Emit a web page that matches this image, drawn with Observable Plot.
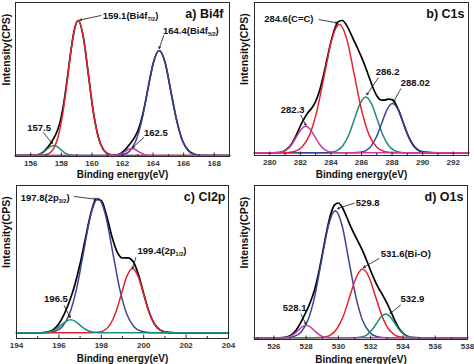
<!DOCTYPE html>
<html><head><meta charset="utf-8">
<script src="https://cdn.jsdelivr.net/npm/d3@7"></script>
<script src="https://cdn.jsdelivr.net/npm/@observablehq/plot@0.6"></script>
<style>
body{margin:0;background:#fff;}
#chart{position:relative;width:474px;height:364px;overflow:hidden;font-family:"Liberation Sans",Arial,sans-serif;}
#chart svg{position:absolute;}
</style></head><body><div id="chart"></div>
<script>
// ---------- a) Bi4f ----------
const bi4fTicks = [156,158,160,162,164,166,168];
const bi4fMinor = [155,157,159,161,163,165,167,169];
const bi4fEnvelope = [[155,0],[156.15,0.1],[156.38,0.4],[156.6,1.5],[156.83,3.6],[157.05,7.2],[157.28,11.8],[157.5,17.1],[157.73,24.5],[157.95,35.6],[158.18,54.4],[158.4,78.4],[158.63,105.2],[158.85,125.7],[159.1,135],[159.43,119.1],[159.76,81.9],[160.09,43.8],[160.42,18.3],[160.75,5.9],[161.08,1.5],[161.34,0.5],[161.55,0.5],[161.76,1.2],[161.97,3.0],[162.18,5.9],[162.39,9.7],[162.6,13.8],[162.81,18.7],[163.02,25.3],[163.23,35.4],[163.44,49.1],[163.65,65.6],[163.83,79.8],[164.02,92.7],[164.4,105],[164.79,92.7],[165.17,63.7],[165.56,34.1],[165.94,14.2],[166.33,4.6],[166.71,1.2],[167.25,0],[169,0]];
const bi4f_157_5 = [[155,0],[155.84,0],[156.15,0.1],[156.38,0.4],[156.6,1.4],[156.83,3.2],[157.05,6.1],[157.28,8.8],[157.5,10],[157.73,8.8],[157.95,6.1],[158.18,3.2],[158.4,1.4],[158.63,0.4],[158.85,0.1],[159.16,0],[169,0]];
const bi4f_159_1 = [[155,0],[156.66,0],[157.12,1.5],[157.45,5.9],[157.78,18.3],[158.11,43.8],[158.44,81.9],[158.77,119.1],[159.1,135],[159.43,119.1],[159.76,81.9],[160.09,43.8],[160.42,18.3],[160.75,5.9],[161.08,1.5],[161.54,0],[169,0]];
const bi4f_164_4 = [[155,0],[161.55,0],[162.09,1.2],[162.48,4.6],[162.86,14.2],[163.25,34.1],[163.63,63.7],[164.02,92.7],[164.4,105],[164.79,92.7],[165.17,63.7],[165.56,34.1],[165.94,14.2],[166.33,4.6],[166.71,1.2],[167.25,0],[169,0]];
const bi4f_162_5 = [[155,0],[161.05,0],[161.34,0.1],[161.55,0.3],[161.76,0.9],[161.97,2.3],[162.18,4.2],[162.39,6.2],[162.6,7],[162.81,6.2],[163.02,4.2],[163.23,2.3],[163.44,0.9],[163.65,0.3],[163.86,0.1],[164.15,0],[169,0]];
const bi4fLabels = [["159.1(Bi4f_{7/2})",160.7,140],["164.4(Bi4f_{5/2})",164.65,125],["157.5",155.77,28],["162.5",163.4,23]];
const bi4fArrows = [[160.6,140,159.2,135.5],[164.7,120,164.4,107],[156.82,23,157.41,12],[163.4,18,162.67,8]];

// ---------- b) C1s ----------
const c1sTicks = [280,282,284,286,288,290,292];
const c1sMinor = [281,283,285,287,289,291];
const c1sEnvelope = [[279,0],[280,0],[280.5,0.2],[280.75,0.8],[281,2.3],[281.25,5.4],[281.5,10.7],[281.75,18.2],[282,26.8],[282.25,34.2],[282.5,40.2],[282.75,44.9],[283,51.5],[283.25,61.9],[283.5,76.6],[283.75,94.0],[284,110.9],[284.25,124.1],[284.5,131.4],[284.75,132.3],[285,128.2],[285.25,120.8],[285.5,112.4],[285.75,104.3],[286,95.6],[286.25,86.1],[286.5,75.6],[286.75,65.1],[287,57.1],[287.25,53.0],[287.5,52.6],[287.75,53.7],[288,53.2],[288.25,48.4],[288.5,39.9],[288.75,29.2],[289,18.9],[289.25,10.8],[289.5,5.4],[289.75,2.4],[290,0.9],[290.5,0.1],[291,0],[293,0]];
const c1s_282_3 = [[279,0],[280.1,0],[280.55,0.3],[280.85,1.2],[281.15,3.6],[281.45,8.6],[281.75,16.1],[282.05,23.4],[282.35,26.5],[282.65,23.4],[282.95,16.1],[283.25,8.6],[283.55,3.6],[283.85,1.2],[284.15,0.3],[284.6,0],[293,0]];
const c1s_284_6 = [[279,0],[280.9,0],[281.61,1.4],[282.1,5.6],[282.59,17.4],[283.08,41.7],[283.57,77.9],[284.06,113.4],[284.55,128.5],[285.04,113.4],[285.53,77.9],[286.02,41.7],[286.51,17.4],[287.0,5.6],[287.49,1.4],[288.2,0],[293,0]];
const c1s_286_2 = [[279,0],[283.5,0],[284.06,0.6],[284.43,2.4],[284.8,7.5],[285.17,18.1],[285.54,33.8],[285.91,49.2],[286.28,55.8],[286.65,49.2],[287.02,33.8],[287.39,18.1],[287.76,7.5],[288.13,2.4],[288.5,0.6],[289.05,0],[293,0]];
const c1s_288_02 = [[279,0],[285.4,0],[285.93,0.5],[286.28,2.2],[286.63,6.7],[286.98,16.0],[287.33,29.8],[287.68,43.4],[288.03,49.2],[288.38,43.4],[288.73,29.8],[289.08,16.0],[289.43,6.7],[289.78,2.2],[290.13,0.5],[290.65,0],[293,0]];
const c1sLabels = [["284.6(C=C)",279.63,134.2],["286.2",286.93,80.8],["288.02",288.57,69.8],["282.3",280.72,42.5]];
const c1sArrows = [[283.23,133.2,284.43,129.8],[287.1,75,286.35,58],[288.57,64,288.09,50.8],[282.03,37.5,282.36,27.5]];

// ---------- c) Cl2p ----------
const cl2pTicks = [194,196,198,200,202,204];
const cl2pMinor = [195,197,199,201,203];
const cl2pEnvelope = [[194,0],[195,0],[195.25,0.2],[195.5,1.0],[195.75,3.4],[196,9.0],[196.25,18.7],[196.5,31.6],[196.75,47.9],[197,69.0],[197.25,94.4],[197.5,118.8],[197.75,133.5],[198,132.3],[198.25,117.1],[198.5,96.3],[198.75,80.6],[199,74.8],[199.25,74.9],[199.5,71.2],[199.75,58.3],[200,39.1],[200.25,21.1],[200.5,9.1],[200.75,3.1],[201,0.85],[201.5,0],[204,0]];
const cl2p_197_8 = [[194,0],[195.3,0],[195.81,1.5],[196.15,5.9],[196.49,18.2],[196.83,43.6],[197.17,81.5],[197.51,118.5],[197.85,134.3],[198.19,118.5],[198.53,81.5],[198.87,43.6],[199.21,18.2],[199.55,5.9],[199.89,1.5],[200.4,0],[204,0]];
const cl2p_199_4 = [[194,0],[197.5,0],[197.91,0.7],[198.17,2.8],[198.43,8.7],[198.69,20.9],[198.95,39.0],[199.21,56.7],[199.47,64.3],[199.73,56.7],[199.99,39.0],[200.25,20.9],[200.51,8.7],[200.77,2.8],[201.03,0.7],[201.45,0],[204,0]];
const cl2p_196_5 = [[194,0],[194.95,0],[195.26,0.1],[195.48,0.6],[195.69,1.8],[195.91,4.2],[196.12,7.9],[196.34,11.5],[196.55,13],[196.77,11.5],[196.98,7.9],[197.2,4.2],[197.41,1.8],[197.63,0.6],[197.84,0.1],[198.15,0],[204,0]];
const cl2pLabels = [["197.8(2p_{3/2})",194.2,135.3],["199.4(2p_{1/2})",199.71,82],["196.5",195.3,33.6]];
const cl2pArrows = [[196.72,136.3,197.74,133.6],[199.63,75.3,199.47,64.3],[196.25,27,196.53,15.3]];

// ---------- d) O1s ----------
const o1sTicks = [526,528,530,532,534,536,538];
const o1sMinor = [525,527,529,531,533,535,537];
const o1sEnvelope = [[524.8,0],[526.2,0],[526.5,0.2],[526.75,0.6],[527,2.0],[527.25,5.1],[527.5,10.6],[527.75,17.9],[528,26.1],[528.25,35.2],[528.5,46.7],[528.75,63.1],[529,83.4],[529.25,104.6],[529.5,122.2],[529.75,132.7],[530,134.8],[530.25,130.1],[530.5,121.3],[530.75,111.7],[531,103.2],[531.25,95.1],[531.5,86.9],[531.75,77.3],[532,67.0],[532.25,57.5],[532.5,49.4],[532.75,42.5],[533,34.9],[533.25,26.1],[533.5,17.2],[533.75,9.6],[534,4.6],[534.25,1.8],[534.5,0.5],[534.75,0.1],[535.1,0],[538,0]];
const o1s_528_1 = [[524.8,0],[526.25,0],[526.56,0.1],[526.8,0.6],[527.04,1.7],[527.28,4.1],[527.52,7.6],[527.76,11.1],[528.0,12.6],[528.24,11.1],[528.48,7.6],[528.72,4.1],[528.96,1.7],[529.2,0.6],[529.44,0.1],[529.75,0],[538,0]];
const o1s_529_8 = [[524.8,0],[526.6,0],[527.25,1.4],[527.68,5.6],[528.1,17.2],[528.53,41.2],[528.95,77.0],[529.38,112.1],[529.8,127],[530.23,112.1],[530.65,77.0],[531.08,41.2],[531.5,17.2],[531.93,5.6],[532.35,1.4],[533.0,0],[538,0]];
const o1s_531_6 = [[524.8,0],[528.5,0],[529.13,0.8],[529.53,3.0],[529.92,9.3],[530.32,22.3],[530.71,41.7],[531.11,60.6],[531.5,68.7],[531.9,60.6],[532.29,41.7],[532.69,22.3],[533.08,9.3],[533.48,3.0],[533.87,0.8],[534.45,0],[538,0]];
const o1s_532_9 = [[524.8,0],[530.8,0],[531.22,0.3],[531.5,1.0],[531.79,3.2],[532.07,7.7],[532.36,14.3],[532.64,20.9],[532.93,23.7],[533.22,20.9],[533.5,14.3],[533.79,7.7],[534.07,3.2],[534.36,1.0],[534.64,0.3],[535.05,0],[538,0]];
const o1sLabels = [["529.8",531.08,135.3],["531.6(Bi-O)",532.62,83.6],["532.9",533.85,38.6],["528.1",526.55,30.3]];
const o1sArrows = [[530.98,134.6,529.95,129.3],[532.52,79.3,531.55,70.3],[533.85,32.6,533.2,24.3],[527.68,23.6,527.99,13.6]];

const xTitle = "Binding energy(eV)";
const yTitle = "Intensity(CPS)";

const RED = "#e2252c", BLUE = "#3a4597", TEAL = "#1d8c7c", MAG = "#c43ba9", BLACK = "#000";
const W = 237, H = 182;
const FONT = "'Liberation Sans', Arial, Helvetica, sans-serif";

function panel(p) {
  const frameH = H - p.mt - p.mb;
  const marks = [];
  for (const s of p.series) {
    marks.push(Plot.line(s.data, {x: d => d[0], y: d => d[1], stroke: s.color, strokeWidth: s.w || 1.5, curve: "monotone-x"}));
  }
  marks.push(Plot.frame({stroke: "#2a2a2a", strokeWidth: 1}));
  marks.push(Plot.tickX(p.ticks, {x: d => d, insetTop: frameH - 3.5, stroke: "#2a2a2a"}));
  marks.push(Plot.tickX(p.minor, {x: d => d, insetTop: frameH - 2, stroke: "#2a2a2a"}));
  marks.push(Plot.axisX(p.ticks, {tickSize: 0, tickPadding: 4, fontSize: 8, fontWeight: "bold", color: "#333", label: null}));
  marks.push(Plot.arrow(p.arrows, {x1: d => d[0], y1: d => d[1], x2: d => d[2], y2: d => d[3], stroke: "#111", strokeWidth: 0.8, headLength: 4}));
  marks.push(Plot.text(p.labels, {x: d => d[1], y: d => d[2], text: d => d[0], textAnchor: "start", lineAnchor: "middle", fontSize: 9.5, fontWeight: "bold", fill: "#111"}));
  marks.push(Plot.text([p.title], {frameAnchor: "top-right", dx: p.tdx, dy: 11, textAnchor: "end", lineAnchor: "middle", fontSize: 12.5, fontWeight: "bold", fill: "#111"}));
  marks.push(Plot.text([xTitle], {frameAnchor: "bottom", dy: p.xdy, lineAnchor: "middle", fontSize: 10, fontWeight: "bold", fill: "#111"}));
  marks.push(Plot.text([yTitle], {frameAnchor: "left", rotate: -90, dx: p.ydx, dy: 6, lineAnchor: "middle", fontSize: 10.5, fontWeight: "bold", fill: "#111"}));
  const svg = Plot.plot({
    width: W, height: H,
    marginLeft: p.ml, marginRight: p.mr, marginTop: p.mt, marginBottom: p.mb,
    x: {domain: p.xDomain},
    y: {domain: p.yDomain, axis: null},
    style: {fontFamily: FONT, background: "transparent", overflow: "visible"},
    marks
  });
  svg.style.left = p.left + "px";
  svg.style.top = p.top + "px";
  // subscripts
  const ns = "http://www.w3.org/2000/svg";
  svg.querySelectorAll("text").forEach(t => {
    const m = t.textContent.match(/^(.*)_\{(.*)\}(.*)$/);
    if (!m || t.children.length) return;
    t.textContent = "";
    const a = document.createElementNS(ns, "tspan"); a.textContent = m[1];
    const b = document.createElementNS(ns, "tspan"); b.textContent = m[2];
    b.setAttribute("font-size", "5.5"); b.setAttribute("dy", "2.5");
    const c = document.createElementNS(ns, "tspan"); c.textContent = m[3]; c.setAttribute("dy", "-2.5");
    t.append(a, b, c);
  });
  document.getElementById("chart").append(svg);
}

panel({left: 0, top: 0, ml: 15, mr: 8, mt: 2, mb: 26, xDomain: [155, 169], yDomain: [-1, 153],
  ticks: bi4fTicks, minor: bi4fMinor, title: "a) Bi4f", tdx: -6, xdy: 18, ydx: -9,
  labels: bi4fLabels, arrows: bi4fArrows,
  series: [{data: bi4fEnvelope, color: BLACK, w: 1.7}, {data: bi4f_157_5, color: TEAL}, {data: bi4f_159_1, color: RED}, {data: bi4f_164_4, color: BLUE}, {data: bi4f_162_5, color: MAG}]});

panel({left: 237, top: 0, ml: 17, mr: 6, mt: 2, mb: 27, xDomain: [279, 293], yDomain: [-2.7, 150.3],
  ticks: c1sTicks, minor: c1sMinor, title: "b) C1s", tdx: -4, xdy: 19, ydx: -10,
  labels: c1sLabels, arrows: c1sArrows,
  series: [{data: c1sEnvelope, color: BLACK, w: 1.7}, {data: c1s_286_2, color: TEAL}, {data: c1s_288_02, color: BLUE}, {data: c1s_284_6, color: RED}, {data: c1s_282_3, color: MAG}]});

panel({left: 0, top: 182, ml: 16, mr: 9, mt: 3, mb: 26, xDomain: [194, 204], yDomain: [-5.7, 147.3],
  ticks: cl2pTicks, minor: cl2pMinor, title: "c) Cl2p", tdx: -3, xdy: 20, ydx: -10,
  labels: cl2pLabels, arrows: cl2pArrows,
  series: [{data: cl2pEnvelope, color: BLACK, w: 1.7}, {data: cl2p_197_8, color: BLUE}, {data: cl2p_199_4, color: RED}, {data: cl2p_196_5, color: TEAL}]});

panel({left: 237, top: 182, ml: 17, mr: 7, mt: 3, mb: 25, xDomain: [524.8, 538], yDomain: [-1.7, 152.3],
  ticks: o1sTicks, minor: o1sMinor, title: "d) O1s", tdx: -4, xdy: 20, ydx: -10,
  labels: o1sLabels, arrows: o1sArrows,
  series: [{data: o1sEnvelope, color: BLACK, w: 1.7}, {data: o1s_529_8, color: BLUE}, {data: o1s_531_6, color: RED}, {data: o1s_532_9, color: TEAL}, {data: o1s_528_1, color: MAG}]});
</script></body></html>
